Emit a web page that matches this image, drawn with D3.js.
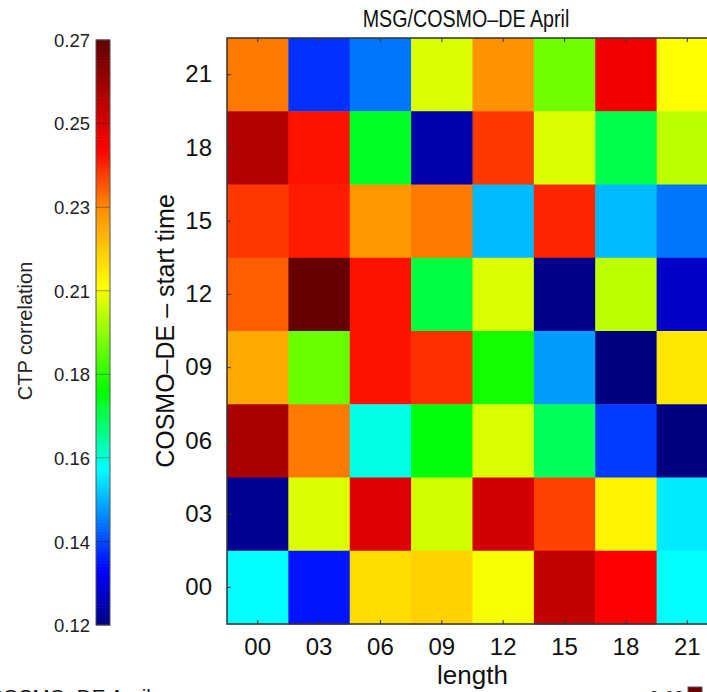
<!DOCTYPE html>
<html>
<head>
<meta charset="utf-8">
<script src="https://cdn.jsdelivr.net/npm/d3@7"></script>
<style>
  html, body { margin: 0; padding: 0; background: #fff; overflow: hidden; }
  svg { display: block; font-family: "Liberation Sans", Arial, sans-serif; }
</style>
</head>
<body>
<div id="chart"></div>
<script>
// forecast length (columns) and start time (rows, top to bottom)
const lengths = ["00", "03", "06", "09", "12", "15", "18", "21"];
const startTimes = ["21", "18", "15", "12", "09", "06", "03", "00"];

// CTP correlation, one row per start time, one value per length
const row21 = [0.229, 0.139, 0.146, 0.203, 0.226, 0.192, 0.244, 0.207];
const row18 = [0.255, 0.240, 0.177, 0.125, 0.236, 0.203, 0.174, 0.200];
const row15 = [0.236, 0.239, 0.225, 0.229, 0.153, 0.238, 0.153, 0.146];
const row12 = [0.232, 0.269, 0.240, 0.175, 0.203, 0.121, 0.200, 0.128];
const row09 = [0.222, 0.191, 0.240, 0.237, 0.182, 0.150, 0.120, 0.211];
const row06 = [0.257, 0.229, 0.162, 0.179, 0.203, 0.173, 0.140, 0.120];
const row03 = [0.122, 0.203, 0.248, 0.202, 0.250, 0.235, 0.209, 0.158];
const row00 = [0.160, 0.136, 0.213, 0.215, 0.206, 0.253, 0.242, 0.160];
const rows = [row21, row18, row15, row12, row09, row06, row03, row00];

// colour bar range and its (unevenly rounded) tick labels
const cbarRange = [0.12, 0.27];
const cbarTickValues = [0.12, 0.1414, 0.1629, 0.1843, 0.2057, 0.2271, 0.2486, 0.27];
const cbarTickLabels = ["0.12", "0.14", "0.16", "0.18", "0.21", "0.23", "0.25", "0.27"];

// colour table stops (value -> colour)
const stopValues = [0.12, 0.134, 0.16, 0.18, 0.207, 0.227, 0.242, 0.27];
const stopColors = ["#000080", "#0000ff", "#00ffff", "#00ff00", "#ffff00", "#ff8c00", "#ff0000", "#600000"];

const width = 707, height = 692;
const plot = { left: 227, right: 718, top: 38, bottom: 624 };
const bar = { x: 96, w: 14, top: 40, bottom: 625 };

const svg = d3.select("#chart").append("svg")
    .attr("width", width)
    .attr("height", height);

const color = d3.scaleLinear()
    .domain(stopValues)
    .range(stopColors)
    .clamp(true);

const x = d3.scaleBand().domain(lengths).range([plot.left, plot.right]);
const y = d3.scaleBand().domain(startTimes).range([plot.top, plot.bottom]);

// flatten into cells
const cells = [];
rows.forEach((r, i) => r.forEach((v, j) => cells.push({ start: startTimes[i], len: lengths[j], value: v })));

svg.append("g").selectAll("rect")
    .data(cells)
    .enter()
    .append("rect")
    .attr("x", d => x(d.len))
    .attr("y", d => y(d.start))
    .attr("width", x.bandwidth() + 0.5)
    .attr("height", y.bandwidth() + 0.5)
    .attr("fill", d => color(d.value));

// frame with small inward ticks
const frame = svg.append("g").attr("stroke", "#333").attr("fill", "none");
frame.append("rect")
    .attr("x", plot.left).attr("y", plot.top)
    .attr("width", plot.right - plot.left).attr("height", plot.bottom - plot.top)
    .attr("stroke-width", 1.5);
lengths.forEach(l => {
    const cx = x(l) + x.bandwidth() / 2;
    frame.append("line").attr("x1", cx).attr("x2", cx).attr("y1", plot.top).attr("y2", plot.top + 4);
    frame.append("line").attr("x1", cx).attr("x2", cx).attr("y1", plot.bottom).attr("y2", plot.bottom - 4);
});
startTimes.forEach(s => {
    const cy = y(s) + y.bandwidth() / 2;
    frame.append("line").attr("x1", plot.left).attr("x2", plot.left + 4).attr("y1", cy).attr("y2", cy);
});

// axes labels
const xAxis = d3.axisBottom(x).tickSize(0).tickPadding(14);
svg.append("g")
    .attr("transform", `translate(0,${plot.bottom})`)
    .call(xAxis)
    .call(g => g.select(".domain").remove())
    .selectAll("text")
    .attr("font-size", 24)
    .attr("font-family", null)
    .attr("fill", "#111");

const yAxis = d3.axisLeft(y).tickSize(0).tickPadding(15);
svg.append("g")
    .attr("transform", `translate(${plot.left},0)`)
    .call(yAxis)
    .call(g => g.select(".domain").remove())
    .selectAll("text")
    .attr("font-size", 24)
    .attr("font-family", null)
    .attr("fill", "#111");

svg.append("text")
    .attr("x", (plot.left + plot.right) / 2)
    .attr("y", 684)
    .attr("text-anchor", "middle")
    .attr("font-size", 26)
    .attr("fill", "#111")
    .text("length");

svg.append("text")
    .attr("transform", `translate(174,${(plot.top + plot.bottom) / 2}) rotate(-90)`)
    .attr("text-anchor", "middle")
    .attr("font-size", 25)
    .attr("fill", "#111")
    .text("COSMO\u2013DE \u2013 start time");

// title: the original face is narrow, so squeeze it horizontally
svg.append("text")
    .attr("transform", "translate(466,27) scale(0.82,1)")
    .attr("text-anchor", "middle")
    .attr("font-size", 24)
    .attr("fill", "#111")
    .text("MSG/COSMO\u2013DE April");

// colour bar
const cb = d3.scaleLinear().domain(cbarRange).range([bar.bottom, bar.top]);
const steps = d3.range(0, 200).map(i => cbarRange[0] + (cbarRange[1] - cbarRange[0]) * i / 200);
const dv = (cbarRange[1] - cbarRange[0]) / 200;
svg.append("g").selectAll("rect")
    .data(steps)
    .enter()
    .append("rect")
    .attr("x", bar.x)
    .attr("y", d => cb(d + dv) - 0.3)
    .attr("width", bar.w)
    .attr("height", d => cb(d) - cb(d + dv) + 0.6)
    .attr("fill", d => color(d + dv / 2));

svg.append("g").selectAll("line")
    .data(cbarTickValues)
    .enter()
    .append("line")
    .attr("x1", bar.x).attr("x2", bar.x + bar.w)
    .attr("y1", d => cb(d)).attr("y2", d => cb(d))
    .attr("stroke", "rgba(0,0,0,0.35)");

svg.append("rect")
    .attr("x", bar.x).attr("y", bar.top)
    .attr("width", bar.w).attr("height", bar.bottom - bar.top)
    .attr("fill", "none").attr("stroke", "#555");

svg.append("g").selectAll("text")
    .data(cbarTickValues)
    .enter()
    .append("text")
    .attr("x", bar.x - 6)
    .attr("y", d => cb(d) + 7)
    .attr("text-anchor", "end")
    .attr("font-size", 18.5)
    .attr("fill", "#222")
    .text((d, i) => cbarTickLabels[i]);

svg.append("text")
    .attr("transform", `translate(32,${(plot.top + plot.bottom) / 2}) rotate(-90)`)
    .attr("text-anchor", "middle")
    .attr("font-size", 20)
    .attr("fill", "#222")
    .text("CTP correlation");

// start of the next panel, cut off by the window
svg.append("text")
    .attr("x", -12)
    .attr("y", 704)
    .attr("font-size", 20.5)
    .attr("fill", "#111")
    .text("COSMO\u2013DE April");
svg.append("text")
    .attr("x", 684)
    .attr("y", 704)
    .attr("text-anchor", "end")
    .attr("font-size", 18)
    .attr("fill", "#222")
    .text("0.63");
svg.append("rect")
    .attr("x", 688).attr("y", 687)
    .attr("width", 14).attr("height", 20)
    .attr("fill", "#6a0000").attr("stroke", "#555");
</script>
</body>
</html>
